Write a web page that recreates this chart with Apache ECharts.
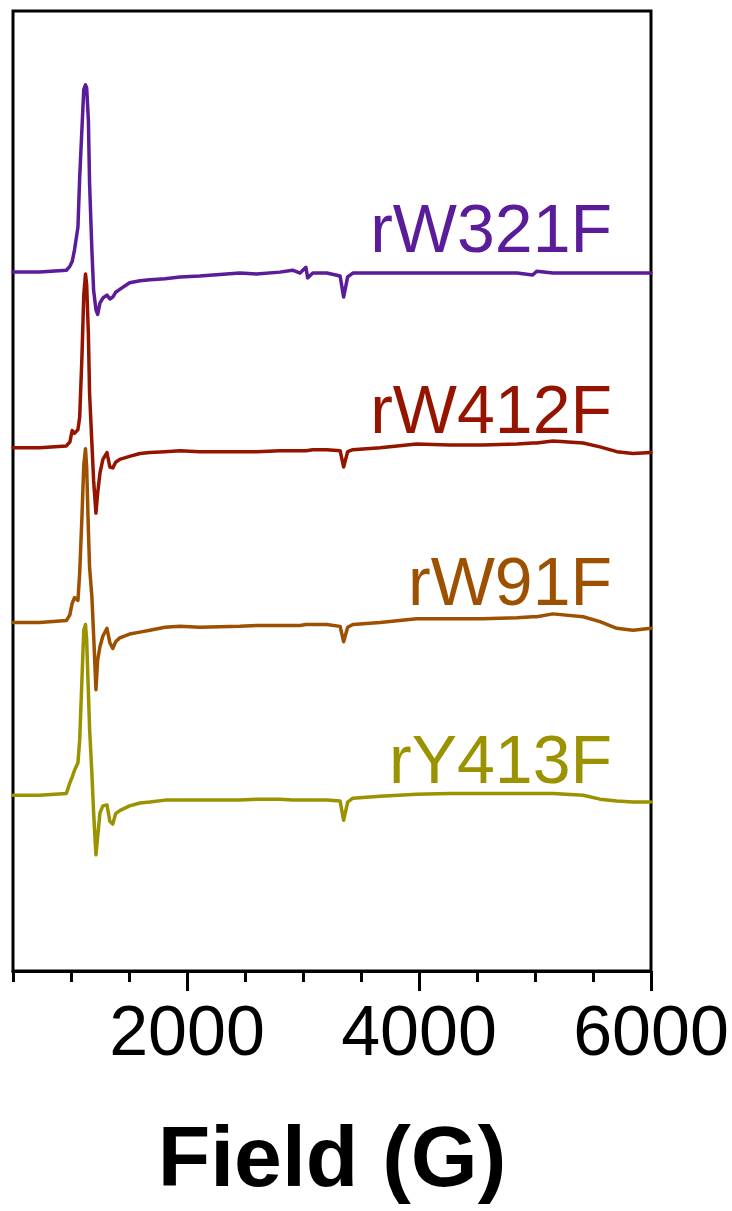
<!DOCTYPE html>
<html>
<head>
<meta charset="utf-8">
<script src="https://cdn.jsdelivr.net/npm/echarts@6/dist/echarts.min.js"></script>
<style>
html,body{margin:0;padding:0;background:#fff;}
#chart{width:732px;height:1211px;}
</style>
</head>
<body>
<div id="chart"></div>
<script>
// Magnetic field (G)
const fields = [500,730,960,990,1010,1030,1060,1075,1095,1110,1125,1135,1150,1160,1180,1195,1215,1230,1250,1275,1310,1335,1360,1385,1420,1505,1595,1680,1810,1940,2110,2455,2600,2800,2910,2975,3025,3040,3085,3205,3320,3350,3385,3430,3665,3980,4265,4550,4845,4980,5015,5155,5415,5560,5705,5845,6000];

// Stacked EPR intensities (a.u., offset included)
const rW321F = [72.8,72.8,73.0,73.4,73.9,75.1,77.5,82.7,87.9,91.8,92.3,92.0,88.6,82.1,75.1,70.9,68.9,68.4,69.6,70.1,70.4,70.0,70.2,70.7,71.0,71.7,71.9,72.0,72.1,72.3,72.4,72.7,72.6,72.8,73.0,72.7,73.3,72.2,72.7,72.7,72.4,70.2,72.3,72.7,72.7,72.7,72.7,72.7,72.7,72.5,72.9,72.7,72.7,72.7,72.7,72.7,72.7];
const rW412F = [54.5,54.5,54.7,55.1,56.3,56.0,56.4,57.7,64.2,70.4,72.6,71.5,66.3,60.2,55.0,51.1,47.7,49.8,51.9,53.3,54.0,52.5,52.4,53.0,53.3,53.6,53.9,54.0,54.1,54.2,54.1,54.1,54.1,54.2,54.2,54.2,54.2,54.2,54.3,54.3,54.2,52.5,54.1,54.3,54.5,54.9,54.8,54.8,54.9,55.0,55.0,55.2,55.0,54.6,54.1,53.9,54.0];
const rW91F = [36.3,36.3,36.5,37.1,38.3,38.9,38.6,41.5,47.5,52.7,54.4,52.5,45.9,42.1,39.0,35.0,29.3,32.4,33.8,34.9,35.7,34.2,33.6,34.3,34.7,35.1,35.3,35.5,35.8,35.9,35.8,35.9,36.0,36.0,36.0,36.0,36.1,36.1,36.1,36.1,35.9,34.3,35.8,36.1,36.3,36.7,36.7,36.7,36.8,36.9,36.9,37.2,36.9,36.4,35.7,35.5,35.7];
const rY413F = [18.3,18.3,18.5,19.6,20.2,20.9,21.7,24.1,30.6,35.5,36.1,34.5,29.0,25.3,20.6,16.5,12.1,14.0,16.5,17.2,17.3,15.6,15.3,16.4,16.7,17.2,17.5,17.6,17.8,17.8,17.8,17.8,17.9,17.9,17.8,17.8,17.8,17.8,17.8,17.8,17.7,15.7,17.6,18.0,18.2,18.4,18.5,18.5,18.5,18.5,18.5,18.5,18.3,17.9,17.7,17.6,17.6];

const seriesNames = ['rW321F','rW412F','rW91F','rY413F'];
const seriesValues = [rW321F, rW412F, rW91F, rY413F];
const seriesColors = ['#5a1c98','#941400','#9d5100','#9b9200'];

const majorTicks = [2000,4000,6000];
const minorTicks = [500,1000,1500,2500,3000,3500,4500,5000,5500];

const labelCenters = [233,414,586,764];

const FONT = '"Liberation Sans", Arial, Helvetica, sans-serif';

const chart = echarts.init(document.getElementById('chart'));

const series = seriesNames.map((name, i) => ({
  name: name,
  type: 'line',
  showSymbol: false,
  symbol: 'none',
  smooth: false,
  animation: false,
  lineStyle: { width: 3.5, color: seriesColors[i], join: 'round', cap: 'round' },
  itemStyle: { color: seriesColors[i] },
  data: fields.map((f, k) => [f, seriesValues[i][k]])
}));

const graphics = seriesNames.map((name, i) => ({
  type: 'text',
  style: {
    text: name,
    x: 612,
    y: labelCenters[i],
    align: 'right',
    verticalAlign: 'middle',
    font: '68px ' + FONT,
    fill: seriesColors[i]
  }
}));

chart.setOption({
  animation: false,
  backgroundColor: '#fff',
  grid: {
    left: 13, right: 81, top: 11, bottom: 240,
    outerBoundsMode: 'none',
    containLabel: false,
    show: true, borderColor: '#000', borderWidth: 3, backgroundColor: 'transparent'
  },
  xAxis: [
    {
      type: 'value', min: 500, max: 6000, position: 'bottom',
      name: 'Field (G)', nameLocation: 'middle', nameGap: 148,
      nameTextStyle: { fontFamily: FONT, fontSize: 86, fontWeight: 'bold', color: '#000' },
      axisLine: { show: true, lineStyle: { color: '#000', width: 3 } },
      axisTick: { show: true, customValues: majorTicks, length: 20, lineStyle: { color: '#000', width: 3 } },
      axisLabel: { show: true, customValues: majorTicks, margin: 30, fontFamily: FONT, fontSize: 70, color: '#000',
        formatter: v => String(v) },
      splitLine: { show: false }
    },
    {
      type: 'value', min: 500, max: 6000, position: 'bottom', gridIndex: 0,
      axisLine: { show: false },
      axisTick: { show: true, customValues: minorTicks, length: 11, lineStyle: { color: '#000', width: 3 } },
      axisLabel: { show: false },
      splitLine: { show: false }
    }
  ],
  yAxis: {
    type: 'value', min: 0, max: 100,
    axisLine: { show: false }, axisTick: { show: false },
    axisLabel: { show: false }, splitLine: { show: false }
  },
  series: series,
  graphic: graphics
});
</script>
</body>
</html>
